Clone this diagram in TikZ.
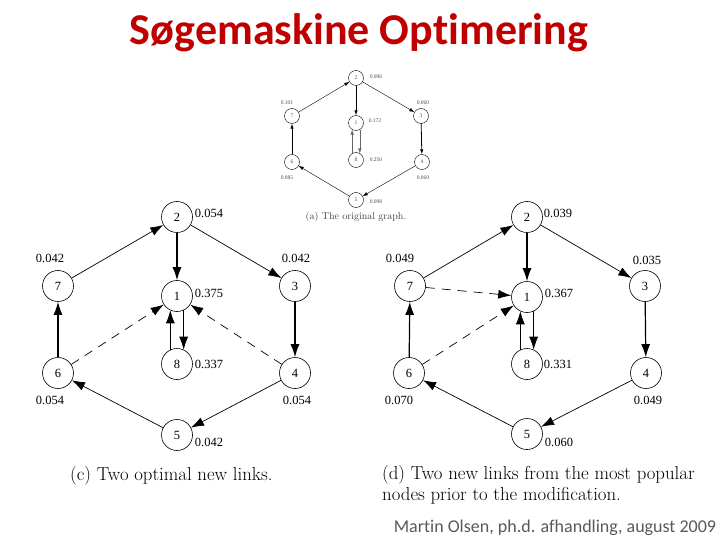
\documentclass[tikz,border=0pt]{standalone}
\usepackage{fontspec}
\usepackage{tikz}
\usetikzlibrary{arrows.meta}

\newfontfamily\timesfont{Liberation Serif}
\newfontfamily\calibri[Ligatures=NoCommon]{Carlito}
\definecolor{titlered}{RGB}{192,0,0}
\definecolor{footgray}{RGB}{89,89,89}

\begin{document}
\begin{tikzpicture}[x=1pt, y=-1pt,
    vertex/.style={draw, circle, minimum size=31pt, inner sep=0pt, line width=0.6pt,
        font=\timesfont\fontsize{12.5}{13}\selectfont},
    prob/.style={inner sep=0pt, font=\timesfont\fontsize{12.5}{13}\selectfont},
    link/.style={-{Latex[length=13pt,width=9pt]}, line width=0.7pt},
    heavy/.style={link, line width=1.2pt},
    newlink/.style={link, dash pattern=on 9pt off 7pt},
    tiny/.style={draw, circle, minimum size=15pt, inner sep=0pt, line width=0.4pt,
        font=\timesfont\fontsize{5.5}{6}\selectfont, text=black!70},
    tinyprob/.style={inner sep=0pt, text=black!70, font=\timesfont\fontsize{5.5}{6}\selectfont},
    tinylink/.style={-{Latex[length=5pt,width=3.5pt]}, line width=0.4pt},
    caption/.style={inner sep=0pt, align=left, font=\fontsize{18.8}{21}\selectfont}
]

\useasboundingbox (0,0) rectangle (720,540);

\node[text=titlered, font=\calibri\bfseries\fontsize{44}{48}\selectfont] (title) at (359,33) {Søgemaskine Optimering};

% (a) the original graph
\node[tiny] (s2) at (356,78) {2};
\node[tiny] (s7) at (292,116) {7};
\node[tiny] (s1) at (356,123) {1};
\node[tiny] (s3) at (421,116) {3};
\node[tiny] (s8) at (356,160) {8};
\node[tiny] (s6) at (292,162) {6};
\node[tiny] (s4) at (422,162) {4};
\node[tiny] (s5) at (356,200) {5};

\node[tinyprob] (sp2) at (376,77) {0.096};
\node[tinyprob] (sp7) at (287,103) {0.101};
\node[tinyprob] (sp1) at (375,121) {0.172};
\node[tinyprob] (sp3) at (423,103) {0.060};
\node[tinyprob] (sp8) at (376,160) {0.250};
\node[tinyprob] (sp6) at (287,178) {0.085};
\node[tinyprob] (sp4) at (423,178) {0.069};
\node[tinyprob] (sp5) at (376,202) {0.098};

\draw[tinylink] (s7) -- (s2);
\draw[tinylink, line width=0.8pt] (s2) -- (s1);
\draw[tinylink] (s2) -- (s3);
\draw[tinylink, line width=0.8pt] (s3) -- (s4);
\draw[tinylink] (s4) -- (s5);
\draw[tinylink] (s5) -- (s6);
\draw[tinylink, line width=0.8pt] (s6) -- (s7);
\draw[tinylink, black!60] (s1.-60) -- (s8.60);
\draw[tinylink, black!60] (s8.120) -- (s1.240);

\node[inner sep=0pt, text=black!75, font=\fontsize{10}{12}\selectfont] (capa) at (356,217) {(a) The original graph.};

% (c) two optimal new links
\node[vertex] (l2) at (177,217) {2};
\node[vertex] (l7) at (58,286) {7};
\node[vertex] (l1) at (177,296) {1};
\node[vertex] (l3) at (295,286) {3};
\node[vertex] (l8) at (177,364) {8};
\node[vertex] (l6) at (58,373) {6};
\node[vertex] (l4) at (295,373) {4};
\node[vertex] (l5) at (177,435) {5};

\node[prob] (lp2) at (209,213) {0.054};
\node[prob] (lp7) at (50,258) {0.042};
\node[prob] (lp1) at (209,293) {0.375};
\node[prob] (lp3) at (296,258) {0.042};
\node[prob] (lp8) at (209,364) {0.337};
\node[prob] (lp6) at (50,400) {0.054};
\node[prob] (lp4) at (297,400) {0.054};
\node[prob] (lp5) at (209,442) {0.042};

\draw[link] (l7) -- (l2);
\draw[heavy] (l2) -- (l1);
\draw[link] (l2) -- (l3);
\draw[heavy] (l3) -- (l4);
\draw[link] (l4) -- (l5);
\draw[link] (l5) -- (l6);
\draw[heavy] (l6) -- (l7);
\draw[link] (l1.-65) -- (l8.65);
\draw[link] (l8.115) -- (l1.245);
\draw[newlink] (l6) -- (l1);
\draw[newlink] (l4) -- (l1);

\node[caption, anchor=west] (capc) at (70,476) {(c) Two optimal new links.};

% (d) two new links from the most popular nodes
\node[vertex] (r2) at (527,217) {2};
\node[vertex] (r7) at (410,286) {7};
\node[vertex] (r1) at (527,297) {1};
\node[vertex] (r3) at (645,286) {3};
\node[vertex] (r8) at (527,364) {8};
\node[vertex] (r6) at (409,373) {6};
\node[vertex] (r4) at (646,373) {4};
\node[vertex] (r5) at (527,434) {5};

\node[prob] (rp2) at (558,213) {0.039};
\node[prob] (rp7) at (400,258) {0.049};
\node[prob] (rp1) at (559,293) {0.367};
\node[prob] (rp3) at (647,260) {0.035};
\node[prob] (rp8) at (558,364) {0.331};
\node[prob] (rp6) at (399,400) {0.070};
\node[prob] (rp4) at (648,400) {0.049};
\node[prob] (rp5) at (559,442) {0.060};

\draw[link] (r7) -- (r2);
\draw[heavy] (r2) -- (r1);
\draw[link] (r2) -- (r3);
\draw[heavy] (r3) -- (r4);
\draw[link] (r4) -- (r5);
\draw[link] (r5) -- (r6);
\draw[heavy] (r6) -- (r7);
\draw[link] (r1.-65) -- (r8.65);
\draw[link] (r8.115) -- (r1.245);
\draw[newlink] (r7) -- (r1);
\draw[newlink] (r6) -- (r1);

\node[caption, anchor=north west] (capd) at (382,465) {(d) Two new links from the most popular\\nodes prior to the modification.};

\node[inner sep=0pt, text=footgray, font=\calibri\fontsize{18}{20}\selectfont] (foot) at (555,528) {Martin Olsen, ph.d. afhandling, august 2009};

\end{tikzpicture}
\end{document}
